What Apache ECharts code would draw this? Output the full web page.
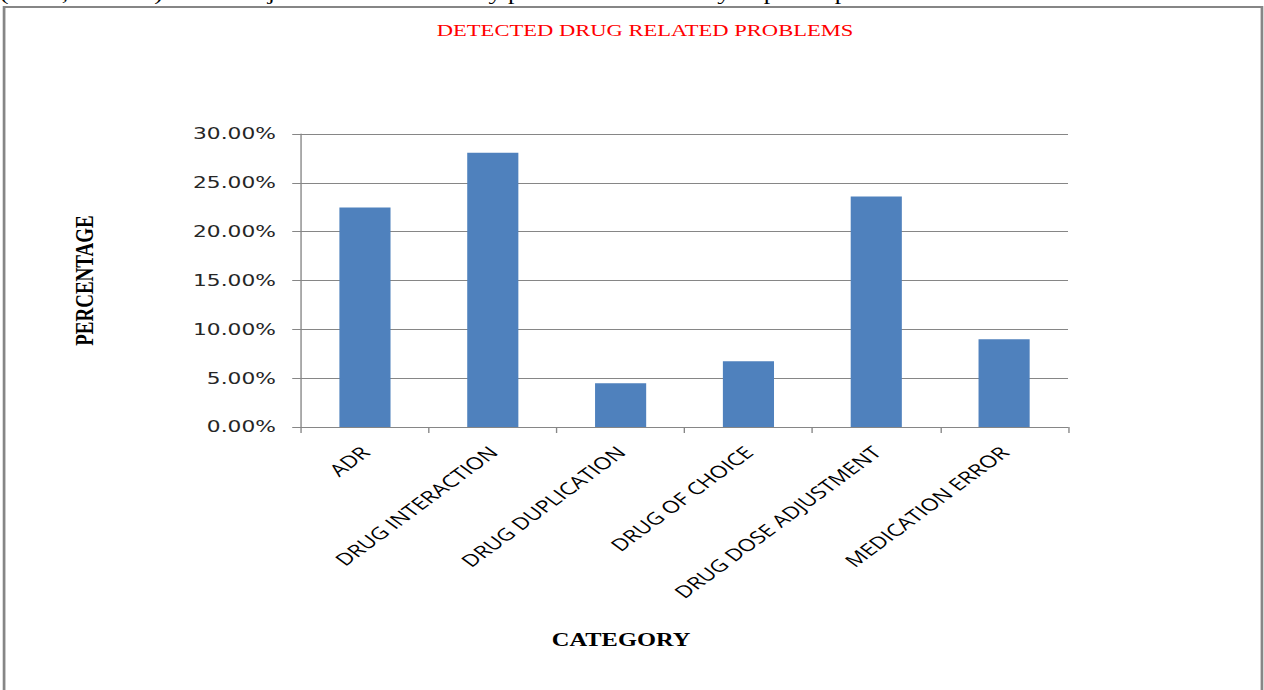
<!DOCTYPE html>
<html>
<head>
<meta charset="utf-8">
<script src="https://cdn.jsdelivr.net/npm/echarts@6/dist/echarts.min.js"></script>
<style>
  html, body { margin: 0; padding: 0; overflow: hidden; background: #fff; }
  /* the source picture is stretched sideways, so the chart is drawn narrow and widened */
  #chart { width: 930px; height: 690px; transform: scaleX(1.35914); transform-origin: 0 0; }
</style>
</head>
<body>
<div id="chart"></div>
<script>
var categories = ['ADR', 'DRUG INTERACTION', 'DRUG DUPLICATION', 'DRUG OF CHOICE', 'DRUG DOSE ADJUSTMENT', 'MEDICATION ERROR'];
var percentages = [22.47, 28.09, 4.49, 6.74, 23.60, 8.99];
var yMin = 0, yMax = 30, yStep = 5;

var myChart = echarts.init(document.getElementById('chart'), null, { renderer: 'svg' });

var option = {
  animation: false,
  backgroundColor: '#fff',
  grid: { left: 221.5, right: 144.2, top: 134, bottom: 263 },
  graphic: [
    {
      // text line of the page above the figure, cut off at the top
      type: 'text', left: 0, top: -16,
      style: {
        text: '(n=21, 23.60%). These adjustments were mainly performed for renally impaired patients.',
        font: '19px "Liberation Serif"', fill: '#000'
      }
    },
    {
      type: 'rect',
      shape: { x: 3, y: 7, width: 925.5, height: 720 },
      style: { fill: 'none', stroke: '#868686', lineWidth: 2 }
    },
    {
      type: 'text', x: 474.6, y: 30,
      style: {
        text: 'DETECTED DRUG RELATED PROBLEMS',
        font: '16.6px "Liberation Serif"', fill: '#ff0000',
        textAlign: 'center', textVerticalAlign: 'middle'
      }
    },
    {
      type: 'text', x: 457, y: 640,
      style: {
        text: 'CATEGORY',
        font: 'bold 18px "Liberation Serif"', fill: '#000',
        textAlign: 'center', textVerticalAlign: 'middle'
      }
    }
  ],
  xAxis: {
    type: 'category',
    data: categories,
    axisLine: { lineStyle: { color: '#868686', width: 1 } },
    axisTick: { show: true, length: 6, lineStyle: { color: '#868686' } },
    axisLabel: {
      rotate: 45, margin: 22, interval: 0,
      fontFamily: 'Open Sans', fontSize: 17, color: '#000'
    }
  },
  yAxis: {
    type: 'value',
    min: yMin, max: yMax, interval: yStep,
    name: 'PERCENTAGE',
    nameLocation: 'middle', nameGap: 150, nameRotate: 90,
    nameTextStyle: { fontFamily: 'Liberation Serif', fontWeight: 'bold', fontSize: 19, color: '#000' },
    axisLine: { show: true, lineStyle: { color: '#868686', width: 1 } },
    axisTick: { show: true, length: 6.5, lineStyle: { color: '#868686' } },
    splitLine: { lineStyle: { color: '#868686', width: 1 } },
    axisLabel: {
      margin: 18.5, fontFamily: 'DejaVu Sans', fontSize: 16, color: '#262626',
      formatter: function (v) { return v.toFixed(2) + '%'; }
    }
  },
  series: [{
    type: 'bar',
    data: percentages,
    barWidth: '40%',
    itemStyle: { color: '#4f81bd' }
  }]
};

myChart.setOption(option);
</script>
</body>
</html>
